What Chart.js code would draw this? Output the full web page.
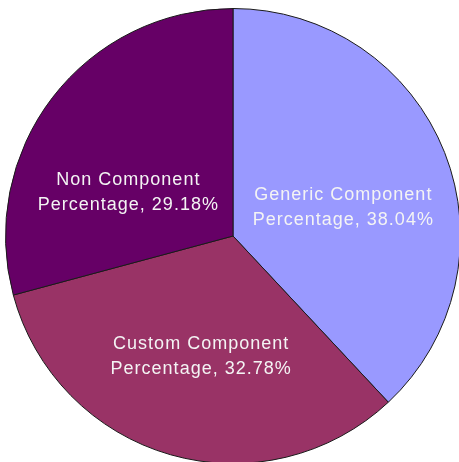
<!DOCTYPE html>
<html>
<head>
<meta charset="utf-8">
<script src="https://cdn.jsdelivr.net/npm/chart.js@4"></script>
<style>
  html, body { margin: 0; padding: 0; background: #fff; overflow: hidden; }
  #wrap { position: absolute; left: 5px; top: 8px; width: 456px; height: 456px; }
</style>
</head>
<body>
<div id="wrap"><canvas id="chart"></canvas></div>
<script>
const categories = ['Generic Component', 'Custom Component', 'Non Component'];
const percentages = [38.04, 32.78, 29.18];
const sliceColors = ['#9999ff', '#993366', '#660066'];

// label spot per slice, as offset from the pie centre in units of radius
const labelSpots = [[0.485, -0.125], [-0.14, 0.53], [-0.46, -0.19]];

const sliceLabels = {
  id: 'sliceLabels',
  afterDatasetsDraw(chart) {
    const ctx = chart.ctx;
    const arcs = chart.getDatasetMeta(0).data;
    ctx.save();
    ctx.fillStyle = '#f4f4f4';
    ctx.font = '18px "Liberation Sans", Arial, sans-serif';
    ctx.letterSpacing = '1px';
    ctx.textAlign = 'center';
    ctx.textBaseline = 'middle';
    arcs.forEach((arc, i) => {
      const r = arc.outerRadius;
      const x = arc.x + labelSpots[i][0] * r;
      const y = arc.y + labelSpots[i][1] * r;
      ctx.fillText(categories[i], x, y - 12.5);
      ctx.fillText('Percentage, ' + percentages[i].toFixed(2) + '%', x, y + 12.5);
    });
    ctx.restore();
  }
};

new Chart(document.getElementById('chart'), {
  type: 'pie',
  data: {
    labels: categories.map(c => c + ' Percentage'),
    datasets: [{
      data: percentages,
      backgroundColor: sliceColors,
      borderColor: '#1a1a1a',
      borderWidth: 1
    }]
  },
  options: {
    responsive: true,
    maintainAspectRatio: false,
    animation: false,
    layout: { padding: 0 },
    plugins: {
      legend: { display: false },
      tooltip: { enabled: false }
    }
  },
  plugins: [sliceLabels]
});
</script>
</body>
</html>
